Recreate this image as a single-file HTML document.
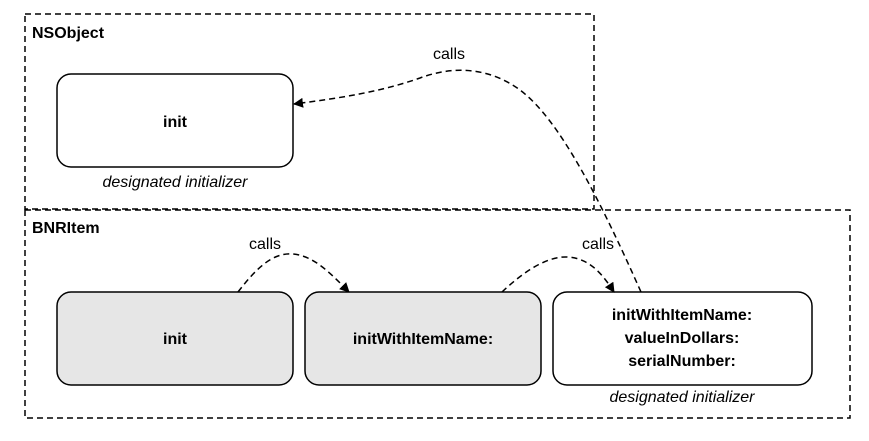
<!DOCTYPE html>
<html><head><style>
body{margin:0;background:#fff;}
svg text{font-family:"Liberation Sans",Arial,sans-serif;}
</style></head><body>
<svg width="869" height="436" viewBox="0 0 869 436" xmlns="http://www.w3.org/2000/svg">
<defs><marker id="a" markerWidth="10" markerHeight="10" refX="9" refY="5" orient="auto" markerUnits="userSpaceOnUse"><path d="M0,0 L10,5 L0,10 z" fill="#000"/></marker></defs>
<g fill="none" stroke="#000" stroke-width="1.5" stroke-dasharray="6,4">
<rect x="25" y="14" width="569" height="195"/>
<rect x="25" y="210" width="825" height="208"/>
</g>
<text x="32" y="38" font-size="16" font-weight="bold">NSObject</text>
<text x="32" y="233" font-size="16" font-weight="bold">BNRItem</text>
<g stroke="#000" stroke-width="1.5">
<rect x="57" y="74" width="236" height="93" rx="14" fill="#fff"/>
<rect x="57" y="292" width="236" height="93" rx="14" fill="#e6e6e6"/>
<rect x="305" y="292" width="236" height="93" rx="14" fill="#e6e6e6"/>
<rect x="553" y="292" width="259" height="93" rx="14" fill="#fff"/>
</g>
<g font-size="16" font-weight="bold" text-anchor="middle">
<text x="175" y="127">init</text>
<text x="175" y="344">init</text>
<text x="423" y="344">initWithItemName:</text>
<text x="682" y="320">initWithItemName:</text>
<text x="682" y="343">valueInDollars:</text>
<text x="682" y="366">serialNumber:</text>
</g>
<g font-size="16" font-style="italic" text-anchor="middle">
<text x="175" y="187">designated initializer</text>
<text x="682" y="402">designated initializer</text>
</g>
<g font-size="16" text-anchor="middle">
<text x="449" y="59">calls</text>
<text x="265" y="249">calls</text>
<text x="598" y="249">calls</text>
</g>
<g fill="none" stroke="#000" stroke-width="1.5" stroke-dasharray="6,4" marker-end="url(#a)">
<path d="M641,292 C600,200 560,120 520,90 C490,68 455,65 420,78 C380,92 340,98 294,104"/>
<path d="M238,292 C255,270 272,252 293,254 C315,256 332,275 349,292"/>
<path d="M502,292 C520,275 545,256 567,257 C590,258 603,275 614,292"/>
</g>
</svg>
</body></html>
